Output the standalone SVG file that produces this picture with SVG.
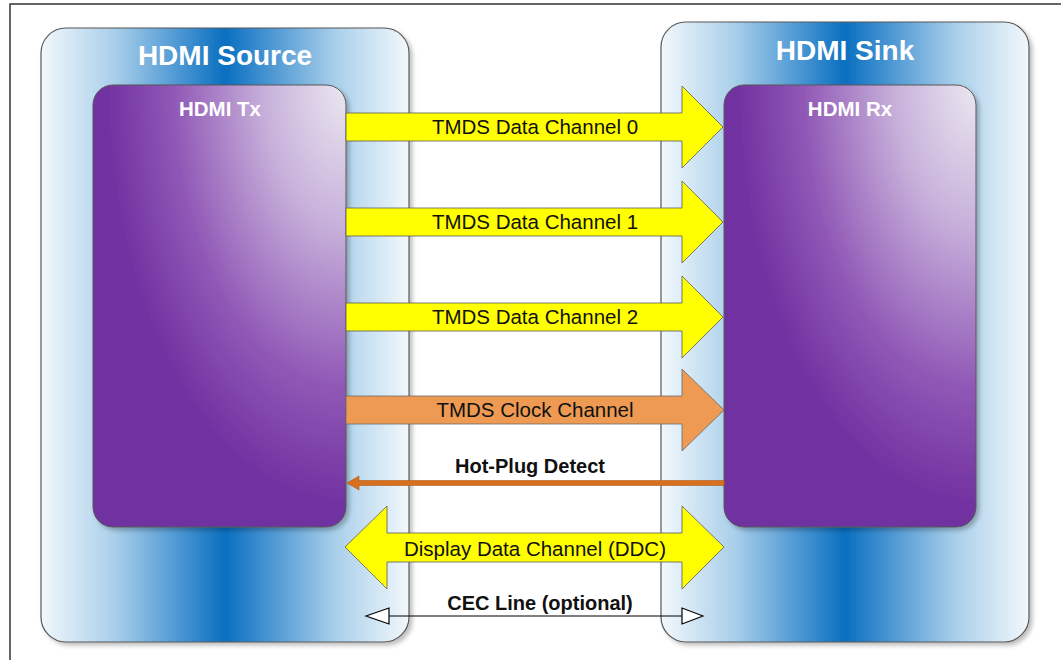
<svg xmlns="http://www.w3.org/2000/svg" width="1061" height="660" viewBox="0 0 1061 660">
<style>
.title{font-family:"Liberation Sans",Arial,sans-serif;font-weight:bold;fill:#ffffff;text-anchor:middle;font-size:28px}
.sub{font-family:"Liberation Sans",Arial,sans-serif;font-weight:bold;fill:#ffffff;text-anchor:middle;font-size:20.5px}
.lbl{font-family:"Liberation Sans",Arial,sans-serif;fill:#111111;text-anchor:middle;font-size:20.5px}
.blbl{font-family:"Liberation Sans",Arial,sans-serif;font-weight:bold;fill:#111111;text-anchor:middle;font-size:20px}
.outer{fill:url(#blueGrad);stroke:#595959;stroke-width:1.2}
.inner{fill:url(#purpleGrad);stroke:#595959;stroke-width:1}
.yarrow{fill:#ffff00;stroke:#5a5a5a;stroke-width:0.8}
.oarrow{fill:#ee9a52;stroke:#6a6a6a;stroke-width:0.8}
</style>
<defs>
<linearGradient id="blueGrad" x1="0" y1="0" x2="1" y2="0">
<stop offset="0" stop-color="#f2f8fc"/>
<stop offset="0.2" stop-color="#a9cfea"/>
<stop offset="0.4" stop-color="#3f8fd0"/>
<stop offset="0.5" stop-color="#0a6fc0"/>
<stop offset="0.6" stop-color="#3f8fd0"/>
<stop offset="0.8" stop-color="#a9cfea"/>
<stop offset="1" stop-color="#f2f8fc"/>
</linearGradient>
<radialGradient id="purpleGrad" cx="1" cy="0" r="1.05" fx="1" fy="0">
<stop offset="0" stop-color="#ebe7f0"/>
<stop offset="0.3" stop-color="#c8b2db"/>
<stop offset="0.65" stop-color="#9058b6"/>
<stop offset="0.9" stop-color="#7232a1"/>
<stop offset="1" stop-color="#7030a0"/>
</radialGradient>
<filter id="shadow" x="-5%" y="-5%" width="115%" height="115%">
<feDropShadow dx="3" dy="3" stdDeviation="2" flood-color="#000000" flood-opacity="0.25"/>
</filter>
</defs>
<rect x="0" y="0" width="1061" height="660" fill="#ffffff"/>
<rect x="10" y="4" width="1070" height="680" fill="none" stroke="#333333" stroke-width="1.5"/>

<g id="hdmi-source">
<rect class="outer" x="41" y="28" width="368" height="614" rx="25" ry="25" filter="url(#shadow)"/>
<text class="title" x="225" y="65">HDMI Source</text>
</g>
<g id="hdmi-sink">
<rect class="outer" x="661" y="22" width="368" height="620" rx="25" ry="25" filter="url(#shadow)"/>
<text class="title" x="845" y="60">HDMI Sink</text>
</g>
<g id="hdmi-tx">
<rect class="inner" x="93" y="85" width="253" height="442" rx="20" ry="20" filter="url(#shadow)"/>
<text class="sub" x="220" y="116">HDMI Tx</text>
</g>
<g id="hdmi-rx">
<rect class="inner" x="724" y="85" width="252" height="442" rx="20" ry="20" filter="url(#shadow)"/>
<text class="sub" x="850" y="116">HDMI Rx</text>
</g>

<g id="connectors">
<g id="tmds0">
<polygon class="yarrow" points="346,113 682,113 682,86 723,127 682,168 682,141 346,141"/>
<text class="lbl" x="535" y="134">TMDS Data Channel 0</text>
</g>
<g id="tmds1">
<polygon class="yarrow" points="346,208 682,208 682,181 723,222 682,263 682,236 346,236"/>
<text class="lbl" x="535" y="229">TMDS Data Channel 1</text>
</g>
<g id="tmds2">
<polygon class="yarrow" points="346,303 682,303 682,276 723,317 682,358 682,331 346,331"/>
<text class="lbl" x="535" y="324">TMDS Data Channel 2</text>
</g>
<g id="tmds-clock">
<polygon class="oarrow" points="346,396 682,396 682,369 724,410 682,451 682,424 346,424"/>
<text class="lbl" x="535" y="417">TMDS Clock Channel</text>
</g>
<g id="hot-plug">
<polygon points="724,480.5 359,480.5 359,476 347,483 359,490 359,485.5 724,485.5" fill="#d66f1e" stroke="#b35a15" stroke-width="0.6"/>
<text class="blbl" x="530" y="473">Hot-Plug Detect</text>
</g>
<g id="ddc">
<polygon class="yarrow" points="345,547 387,506 387,533 682,533 682,506 724,547 682,589 682,562 387,562 387,589"/>
<text class="lbl" x="535" y="556" font-size="20px">Display Data Channel (DDC)</text>
</g>
<g id="cec">
<line x1="389" y1="616" x2="682" y2="616" stroke="#000000" stroke-width="1.2"/>
<polygon points="366,616 389,608 389,624" fill="#ffffff" stroke="#000000" stroke-width="1.2"/>
<polygon points="703,616 682,608 682,624" fill="#ffffff" stroke="#000000" stroke-width="1.2"/>
<text class="blbl" x="540" y="610">CEC Line (optional)</text>
</g>
</g>
</svg>
